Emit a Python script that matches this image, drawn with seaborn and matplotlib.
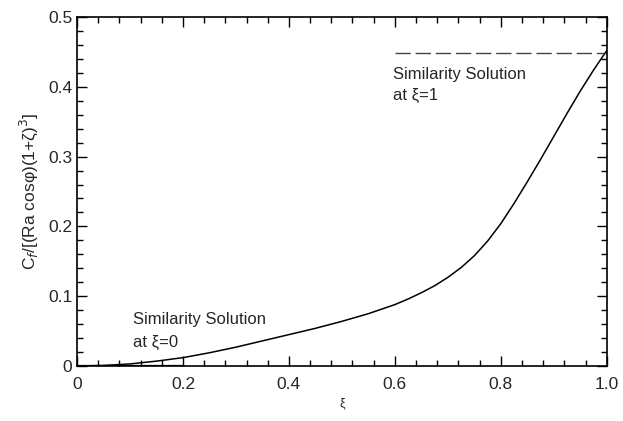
import numpy as np
import pandas as pd
import matplotlib
matplotlib.use("Agg")
import matplotlib.pyplot as plt
import matplotlib.ticker as mticker
import seaborn as sns

# ── data ─────────────────────────────────────────────────────────────
xi = [0.0, 0.05, 0.1, 0.15, 0.2, 0.25, 0.3, 0.35, 0.4, 0.45, 0.5, 0.55,
      0.6, 0.625, 0.65, 0.675, 0.7, 0.725, 0.75, 0.775, 0.8, 0.825, 0.85,
      0.875, 0.9, 0.925, 0.95, 0.975, 1.0]
cf = [0.0, 0.0008, 0.003, 0.007, 0.012, 0.019, 0.027, 0.036, 0.045, 0.054,
      0.064, 0.075, 0.088, 0.096, 0.105, 0.115, 0.127, 0.141, 0.158, 0.179,
      0.204, 0.233, 0.264, 0.296, 0.329, 0.362, 0.394, 0.424, 0.452]
sim_xi1 = 0.448          # similarity solution at xi = 1
sim_xi1_range = [0.6, 1.0]

df = pd.DataFrame({"xi": xi, "cf": cf})

sns.set_theme(style="ticks")
plt.rcParams["font.family"] = ["Liberation Sans", "DejaVu Sans"]

fig = plt.figure(figsize=(6.23, 4.21), dpi=100)
ax = fig.add_axes([0.1236, 0.1306, 0.8504, 0.829])

sns.lineplot(data=df, x="xi", y="cf", color="black", linewidth=1.1, ax=ax)
ax.plot(sim_xi1_range, [sim_xi1, sim_xi1], color="#444444", linewidth=1.0,
        dashes=(11, 3.5))
ax.plot([0.0, 0.2], [0.0, 0.0], color="black", linewidth=1.6)

ax.set_xlim(0, 1.0)
ax.set_ylim(0, 0.5)
ax.xaxis.set_major_locator(mticker.MultipleLocator(0.2))
ax.xaxis.set_minor_locator(mticker.MultipleLocator(0.04))
ax.yaxis.set_major_locator(mticker.MultipleLocator(0.1))
ax.yaxis.set_minor_locator(mticker.MultipleLocator(0.02))
fmt = mticker.FuncFormatter(lambda v, _: "0" if abs(v) < 1e-9 else f"{v:.1f}")
ax.xaxis.set_major_formatter(fmt)
ax.yaxis.set_major_formatter(fmt)
ax.tick_params(which="both", direction="in", top=True, right=True,
               labelsize=12.5, color="black", width=1.0)
ax.tick_params(which="major", length=7)
ax.tick_params(which="minor", length=4)
ax.tick_params(axis="x", pad=8)
for s in ax.spines.values():
    s.set_linewidth(1.2)
    s.set_color("black")

ax.set_xlabel("ξ", fontsize=9, labelpad=4)
ax.set_ylabel(r"C$_f$/[(Ra cosφ)(1+ζ)$^3$]", fontsize=12.5, labelpad=6)

ax.text(0.106, 0.066, "Similarity Solution", fontsize=12, va="center")
ax.text(0.106, 0.034, "at ξ=0", fontsize=12, va="center")
ax.text(0.596, 0.418, "Similarity Solution", fontsize=12, va="center")
ax.text(0.596, 0.387, "at ξ=1", fontsize=12, va="center")

fig.savefig("out.png", dpi=100)
